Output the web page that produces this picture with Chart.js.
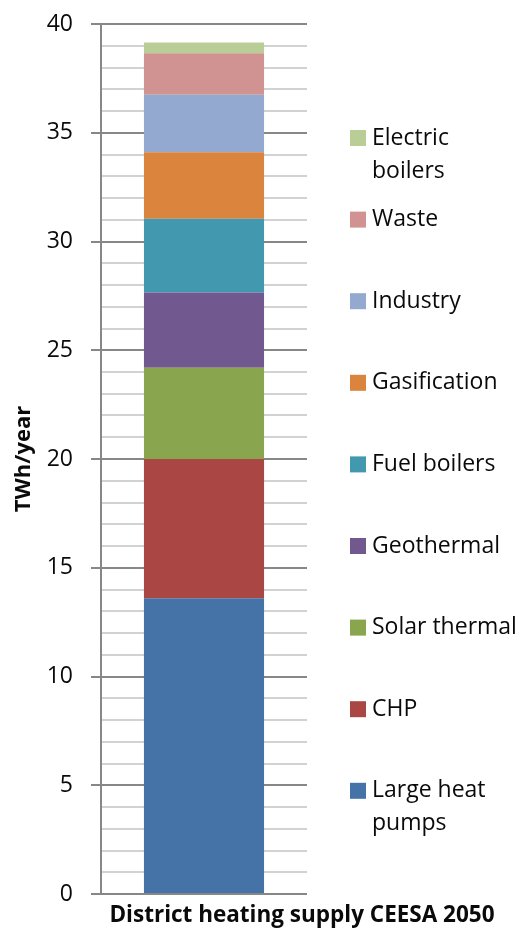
<!DOCTYPE html>
<html>
<head>
<meta charset="utf-8">
<title>District heating supply CEESA 2050</title>
<script src="https://cdn.jsdelivr.net/npm/chart.js@4.4.1/dist/chart.umd.min.js"></script>
<style>
  html, body { margin: 0; padding: 0; background: #fff; }
  #wrap { position: relative; width: 523px; height: 928px; }
</style>
</head>
<body>
<div id="wrap"><canvas id="chart"></canvas></div>
<script>
// ---------------------- Data ----------------------
const CATEGORY = 'District heating supply CEESA 2050';
const SOURCES = [
  'Large heat pumps', 'CHP', 'Solar thermal', 'Geothermal', 'Fuel boilers',
  'Gasification', 'Industry', 'Waste', 'Electric boilers',
];
const SUPPLY_TWH = [13.6, 6.4, 4.2, 3.45, 3.4, 3.05, 2.65, 1.9, 0.5];
const COLORS = [
  '#4572A7', '#AA4643', '#89A54E', '#71588F', '#4198AF',
  '#DB843D', '#93A9CF', '#D19392', '#B9CD96',
];

const FONT = '"Open Sans", "Noto Sans", sans-serif';
const AXIS_GREY = '#878787';
const MINOR_GREY = '#d2d2d2';
const isMajor = (v) => v % 5 === 0;

// ---------------------- Plugins ----------------------
function wrapText(ctx, text, maxWidth) {
  const words = text.split(' ');
  const lines = [];
  let cur = '';
  words.forEach(w => {
    const test = cur ? cur + ' ' + w : w;
    if (cur && ctx.measureText(test).width > maxWidth) {
      lines.push(cur);
      cur = w;
    } else {
      cur = test;
    }
  });
  if (cur) lines.push(cur);
  return lines;
}

// legend on the right, top item = top of stack
const sideLegend = {
  id: 'sideLegend',
  afterDraw(chart, _args, opts) {
    const ctx = chart.ctx;
    const sets = chart.data.datasets;
    ctx.save();
    ctx.font = opts.font;
    ctx.textBaseline = 'middle';
    ctx.textAlign = 'left';
    for (let i = sets.length - 1, row = 0; i >= 0; i--, row++) {
      const y = opts.top + row * opts.step;
      ctx.fillStyle = sets[i].backgroundColor;
      ctx.fillRect(opts.x, y - opts.box / 2, opts.box, opts.box);
      ctx.fillStyle = opts.color;
      wrapText(ctx, sets[i].label, opts.maxWidth).forEach((line, k) => {
        ctx.fillText(line, opts.x + opts.box + opts.gap, y + k * opts.lineHeight);
      });
    }
    ctx.restore();
  },
};

// category caption under the bar
const categoryCaption = {
  id: 'categoryCaption',
  afterDraw(chart, _args, opts) {
    const ctx = chart.ctx;
    ctx.save();
    ctx.font = opts.font;
    ctx.fillStyle = opts.color;
    ctx.textAlign = 'center';
    ctx.textBaseline = 'middle';
    ctx.fillText(chart.data.labels[0], opts.x, opts.y);
    ctx.restore();
  },
};

// ---------------------- Chart ----------------------
new Chart(document.getElementById('chart'), {
  type: 'bar',
  data: {
    labels: [CATEGORY],
    datasets: SOURCES.map((name, i) => ({
      label: name,
      data: [SUPPLY_TWH[i]],
      backgroundColor: COLORS[i],
      borderWidth: 0,
      barPercentage: 1,
      categoryPercentage: 0.583,
    })),
  },
  options: {
    responsive: true,
    maintainAspectRatio: false,
    animation: false,
    layout: { padding: { top: 24, right: 216, bottom: 34, left: 0 } },
    plugins: {
      legend: { display: false },
      tooltip: { enabled: false },
      sideLegend: {
        x: 350, top: 138, step: 81.6, box: 16, gap: 6,
        lineHeight: 33, maxWidth: 150,
        font: `23px ${FONT}`, color: '#0a0a0a',
      },
      categoryCaption: { x: 302, y: 916, font: `bold 22.5px ${FONT}`, color: '#0a0a0a' },
    },
    scales: {
      x: { stacked: true, display: false },
      y: {
        stacked: true,
        min: 0,
        max: 40,
        // fixed axis width; tick padding must not push the plot down
        afterFit: (s) => { s.width = 101; s.paddingTop = 0; s.paddingBottom = 0; },
        ticks: {
          stepSize: 1,
          autoSkip: false,
          padding: 18,
          color: '#0a0a0a',
          font: { family: FONT, size: 23 },
          callback: (v) => (isMajor(v) ? v : ''),
        },
        grid: {
          color: (c) => (isMajor(c.tick.value) ? AXIS_GREY : MINOR_GREY),
          lineWidth: 2,
          tickLength: 10,
          tickColor: (c) => (isMajor(c.tick.value) ? AXIS_GREY : 'rgba(0,0,0,0)'),
        },
        border: { color: AXIS_GREY, width: 2 },
        title: {
          display: true,
          text: 'TWh/year',
          color: '#0a0a0a',
          font: { family: FONT, size: 22, weight: 'bold' },
          padding: { top: 11, bottom: 0 },
        },
      },
    },
  },
  plugins: [sideLegend, categoryCaption],
});
</script>
</body>
</html>
